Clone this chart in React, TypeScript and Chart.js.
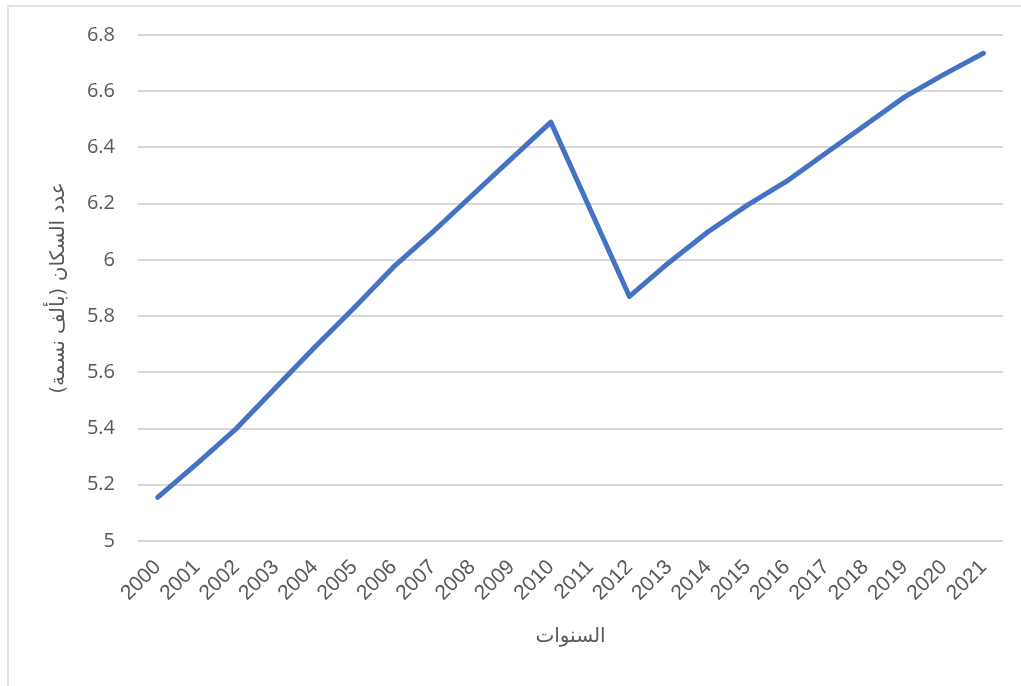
import React, { useEffect, useRef } from "react";
import { Chart, registerables } from "chart.js";

Chart.register(...registerables);

const years: string[] = [
  "2000", "2001", "2002", "2003", "2004", "2005", "2006", "2007", "2008", "2009", "2010",
  "2011", "2012", "2013", "2014", "2015", "2016", "2017", "2018", "2019", "2020", "2021",
];

const population: number[] = [
  5.155, 5.275, 5.4, 5.545, 5.69, 5.83, 5.975, 6.1, 6.23, 6.36, 6.49,
  6.18, 5.87, 5.99, 6.1, 6.195, 6.28, 6.38, 6.48, 6.58, 6.66, 6.735,
];

const yMin = 5;
const yMax = 6.8;
const yStep = 0.2;

const yTitle = "عدد السكان (بألف نسمة)";
const xTitle = "السنوات";

export default function App() {
  const canvasRef = useRef<HTMLCanvasElement | null>(null);

  useEffect(() => {
    if (!canvasRef.current) return;
    const chart = new Chart(canvasRef.current, {
      type: "line",
      data: {
        labels: years,
        datasets: [
          {
            data: population,
            borderColor: "#4472C4",
            backgroundColor: "#4472C4",
            borderWidth: 5,
            pointRadius: 0,
            pointHoverRadius: 0,
            tension: 0,
            borderCapStyle: "round",
            borderJoinStyle: "round",
            fill: false,
          },
        ],
      },
      options: {
        animation: false,
        responsive: true,
        maintainAspectRatio: false,
        layout: { padding: { top: 34, right: 18, bottom: 0, left: 0 } },
        plugins: {
          legend: { display: false },
          tooltip: { enabled: false },
        },
        scales: {
          x: {
            offset: true,
            grid: { display: false },
            border: { display: false },
            ticks: {
              color: "#595959",
              font: { family: "'Liberation Sans', Arial, sans-serif", size: 21 },
              minRotation: 45,
              maxRotation: 45,
              autoSkip: false,
              padding: 6,
            },
            title: {
              display: true,
              text: xTitle,
              color: "#595959",
              font: { family: "'DejaVu Sans', sans-serif", size: 20 },
              padding: { top: 0, bottom: 37 },
            },
            afterFit: (scale: any) => {
              scale.height = 145;
            },
          },
          y: {
            min: yMin,
            max: yMax,
            grid: { color: "#d9d9d9", lineWidth: 2, drawTicks: false },
            border: { display: false },
            ticks: {
              stepSize: yStep,
              color: "#595959",
              font: { family: "'Open Sans', sans-serif", size: 20 },
              padding: 23,
              callback: (v: any) => String(Number(Number(v).toFixed(1))),
            },
            title: {
              display: true,
              text: yTitle,
              color: "#595959",
              font: { family: "'DejaVu Sans', sans-serif", size: 20 },
              padding: { top: 47, bottom: 0 },
            },
            afterFit: (scale: any) => {
              scale.width = 138;
            },
          },
        },
      },
    });
    return () => chart.destroy();
  }, []);

  return (
    <div
      style={{
        position: "fixed",
        left: 0,
        top: 0,
        width: 1021,
        height: 686,
        overflow: "hidden",
        background: "#ffffff",
      }}
    >
      <div
        style={{
          position: "absolute",
          left: 7,
          top: 5,
          width: 1100,
          height: 800,
          border: "2px solid #e3e3e3",
          boxSizing: "border-box",
        }}
      />
      <div style={{ position: "absolute", left: 0, top: 0, width: 1021, height: 686 }}>
        <canvas ref={canvasRef} />
      </div>
    </div>
  );
}
